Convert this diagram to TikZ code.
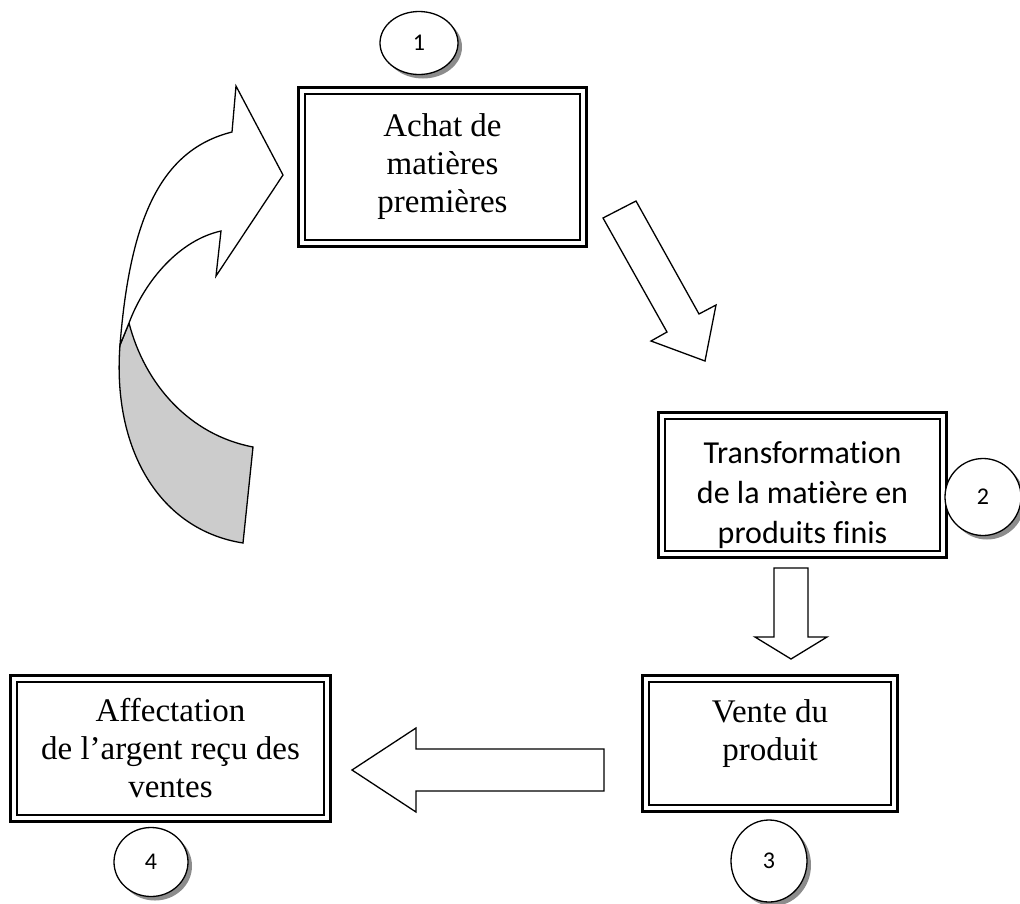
\documentclass[tikz,border=0pt]{standalone}
\usepackage{fontspec}
\setmainfont{Liberation Serif}
\newfontfamily\calibri[Ligatures=NoCommon]{Carlito}
\usetikzlibrary{shapes.geometric, shadows}

\begin{document}
\begin{tikzpicture}[x=1pt, y=-1pt,
    cadre/.style={draw, line width=1.4pt, align=center, inner sep=0pt,
      font=\fontsize{33}{38}\selectfont},
    rond/.style={ellipse, draw, line width=1.3pt, fill=white, inner sep=0pt,
      font=\calibri\fontsize{24}{28}\selectfont,
      drop shadow={shadow xshift=4pt, shadow yshift=-4pt, fill=gray!90, opacity=1}},
    fleche/.style={draw, line width=1.3pt, fill=white, line join=miter}]
  \useasboundingbox (0,0) rectangle (1020,903);
  %tikz  cycle d'exploitation
  \node[cadre, minimum width=275pt, minimum height=146pt] (achat) at (442.5,167) {Achat de\\matières\\premières};
  \node[cadre, minimum width=275pt, minimum height=132pt, font=\calibri\fontsize{32}{40}\selectfont] (transfo) at (802.5,485)
    {\rule{0pt}{42pt}Transformation\\de la matière en\\produits finis};
  \node[cadre, minimum width=242pt, minimum height=123pt] (vente) at (770,743.5) {Vente du\\produit\\[-12pt]\mbox{}};
  \node[cadre, minimum width=307pt, minimum height=133pt] (affect) at (170.5,748.5)
    {Affectation\\de l’argent reçu des\\ventes};
  \foreach \n in {achat,transfo,vente,affect}{
    \draw[line width=3pt] ([shift={(-5.5pt,5.5pt)}]\n.north west) rectangle ([shift={(5.5pt,-5.5pt)}]\n.south east);
  }
  \node[rond, minimum width=78pt, minimum height=63pt] (un) at (419,43) {1};
  \node[rond, minimum width=76pt, minimum height=77pt] (deux) at (983,497) {2};
  \node[rond, minimum width=76pt, minimum height=82pt] (trois) at (769,861) {3};
  \node[rond, minimum width=74pt, minimum height=69pt] (quatre) at (151,862) {4};
  % fleches
  \filldraw[fleche] (603,218) -- (636,201) -- (699,314) -- (716,305) -- (705,361) -- (651,341) -- (667,332) -- cycle;
  \filldraw[fleche] (774,568) -- (808,568) -- (808,637) -- (827,637) -- (791,659) -- (755,637) -- (774,637) -- cycle;
  \filldraw[fleche] (604,749) -- (604,791) -- (416,791) -- (416,812) -- (352,770) -- (416,728) -- (416,749) -- cycle;
  \filldraw[fleche, fill=gray!40] (120,345) .. controls (112,450) and (160,530) .. (243,543) -- (253,447)
    .. controls (190,435) and (145,385) .. (129,323) -- cycle;
  \filldraw[fleche] (120,345) .. controls (130,220) and (160,150) .. (232,132) -- (236,86) -- (283,175)
    -- (216,276) -- (221,231) .. controls (180,240) and (145,280) .. (129,323) -- cycle;
\end{tikzpicture}
\end{document}
